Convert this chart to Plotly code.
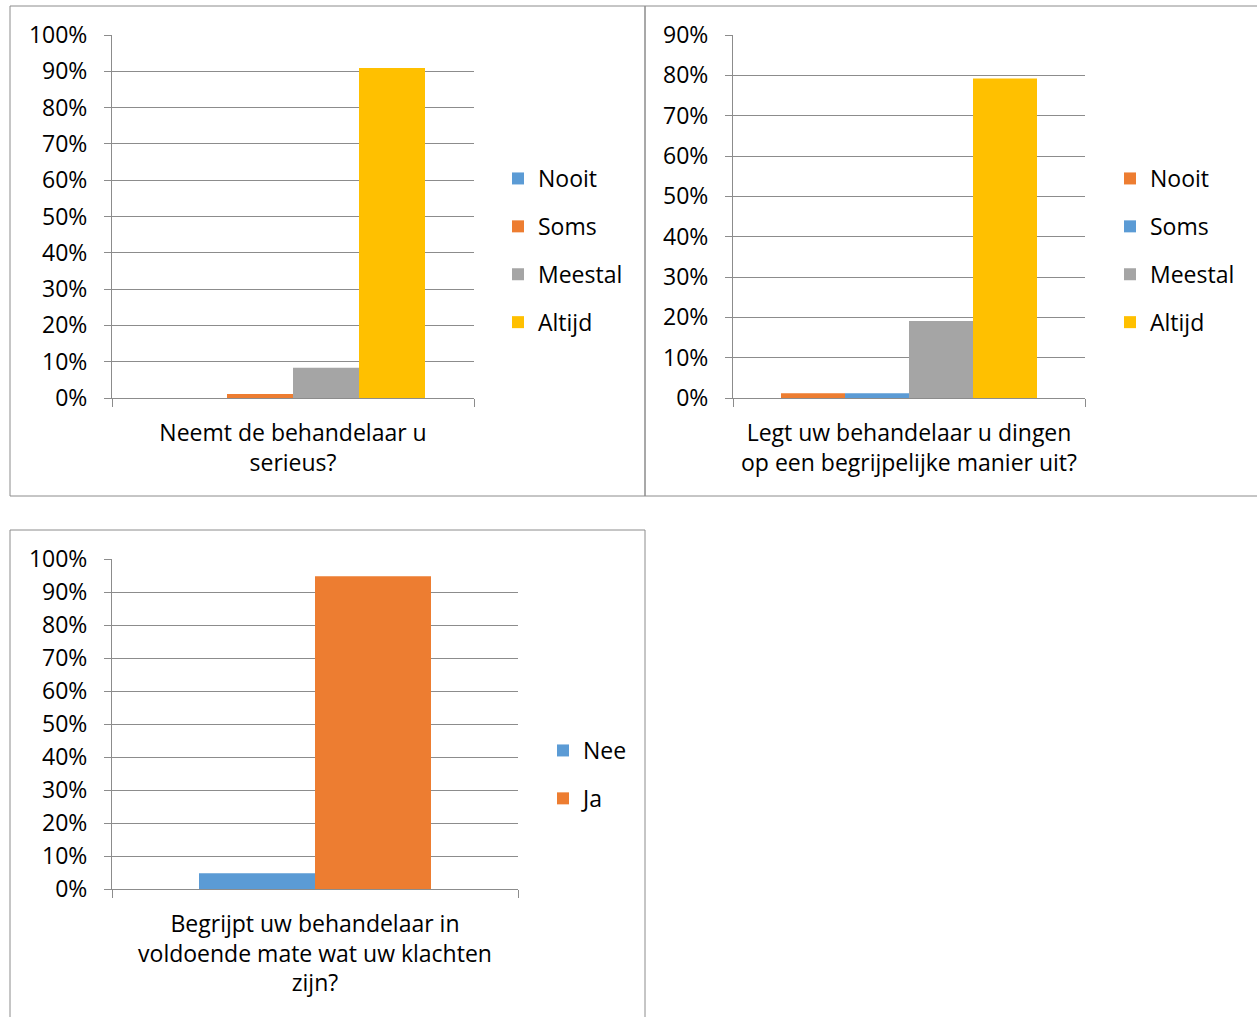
import plotly.graph_objects as go

# ---------------- data ----------------
q1_label = "Neemt de behandelaar u<br>serieus?"
q1_series = ["Nooit", "Soms", "Meestal", "Altijd"]
q1_values = [0.0, 0.011, 0.083, 0.909]

q2_label = "Legt uw behandelaar u dingen<br>op een begrijpelijke manier uit?"
q2_series = ["Nooit", "Soms", "Meestal", "Altijd"]
q2_values = [0.012, 0.012, 0.191, 0.792]

q3_label = "Begrijpt uw behandelaar in<br>voldoende mate wat uw klachten<br>zijn?"
q3_series = ["Nee", "Ja"]
q3_values = [0.048, 0.948]

BLUE, ORANGE, GRAY, YELLOW = "#5B9BD5", "#ED7D31", "#A5A5A5", "#FFC000"
q1_colors = [BLUE, ORANGE, GRAY, YELLOW]
q2_colors = [ORANGE, BLUE, GRAY, YELLOW]
q3_colors = [BLUE, ORANGE]

W, H = 1257, 1017
FONT = "Open Sans"
FS = 23
GRID = "#8C8C8C"

def px(x):
    return x / W

def py(y):
    return 1 - y / H

fig = go.Figure()

def add_chart(idx, label, series, values, colors, bw):
    n = len(series)
    xa = "x" if idx == 1 else f"x{idx}"
    ya = "y" if idx == 1 else f"y{idx}"
    lg = "legend" if idx == 1 else f"legend{idx}"
    for i, (s, v, c) in enumerate(zip(series, values, colors)):
        fig.add_trace(go.Bar(
            x=[label], y=[v], name=s, marker=dict(color=c, line=dict(width=0)),
            width=bw, offset=(i - n / 2) * bw,
            xaxis=xa, yaxis=ya, legend=lg, legendgroup=f"{idx}-{s}",
            hoverinfo="skip"))

add_chart(1, q1_label, q1_series, q1_values, q1_colors, 66 / 362)
add_chart(2, q2_label, q2_series, q2_values, q2_colors, 64 / 352)
add_chart(3, q3_label, q3_series, q3_values, q3_colors, 116 / 406)

def xaxis(x0, x1, anchor):
    return dict(domain=[px(x0), px(x1)], anchor=anchor, type="category",
                range=[-0.5, 0.5], showline=True, linecolor=GRID, linewidth=1,
                ticks="outside", tickson="boundaries", ticklen=8, tickcolor=GRID,
                showgrid=False, tickfont=dict(family=FONT, size=FS, color="#000"),
                ticklabelstandoff=14, fixedrange=True)

def yaxis(y0, y1, anchor, ymax):
    return dict(domain=[py(y1), py(y0)], anchor=anchor, range=[0, ymax],
                dtick=0.1, tickformat=".0%", showline=True, linecolor=GRID,
                linewidth=1, ticks="outside", ticklen=7, tickcolor=GRID,
                showgrid=True, gridcolor=GRID, gridwidth=1, zeroline=False,
                tickfont=dict(family=FONT, size=FS, color="#000"),
                ticklabelstandoff=12, fixedrange=True)

def legend(x, y, gap):
    return dict(x=px(x), y=py(y), xanchor="left", yanchor="top",
                font=dict(family=FONT, size=FS, color="#000"),
                bgcolor="rgba(0,0,0,0)", tracegroupgap=gap, itemwidth=30,
                traceorder="grouped")

fig.update_layout(
    width=W, height=H, margin=dict(l=0, r=0, t=0, b=0, autoexpand=False),
    paper_bgcolor="white", plot_bgcolor="white",
    barmode="overlay", showlegend=True,
    font=dict(family=FONT, size=FS, color="#000"),
    xaxis=xaxis(112, 474, "y"), yaxis=yaxis(35, 398, "x", 1.0),
    xaxis2=xaxis(733, 1085, "y2"), yaxis2=yaxis(35, 398, "x2", 0.9),
    xaxis3=xaxis(112, 518, "y3"), yaxis3=yaxis(559, 889, "x3", 1.0),
    legend=legend(498, 157, 15),
    legend2=legend(1110, 157, 15),
    legend3=legend(543, 729, 15),
)

# chart frames
box = dict(type="rect", xref="paper", yref="paper",
           line=dict(color="#8C8C8C", width=1), fillcolor="rgba(0,0,0,0)", layer="below")
fig.add_shape(**box, x0=px(10), x1=px(645), y0=py(496), y1=py(6))
fig.add_shape(**box, x0=px(645), x1=px(1262), y0=py(496), y1=py(6))
fig.add_shape(**box, x0=px(10), x1=px(645), y0=py(1022), y1=py(530))

fig.write_html("out.html")
